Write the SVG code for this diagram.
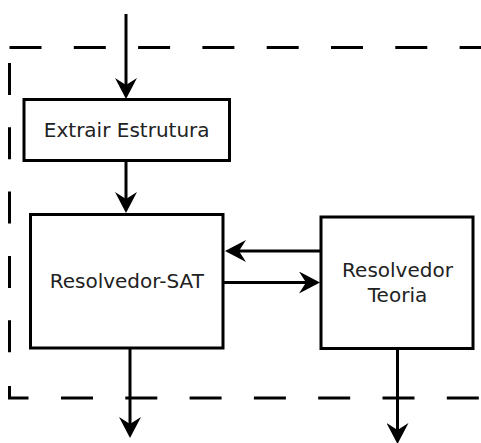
<svg xmlns="http://www.w3.org/2000/svg" width="481" height="443" viewBox="0 0 481 443">
<style>
.box{fill:#fff;stroke:#000;stroke-width:3}
.dash{fill:none;stroke:#000;stroke-width:3;stroke-dasharray:32 32.3}
.conn{fill:none;stroke:#000;stroke-width:3;marker-end:url(#ah)}
.lbl{font-family:"DejaVu Sans",sans-serif;font-size:20px;fill:#222;text-anchor:middle}
</style>
<defs>
<marker id="ah" viewBox="0 0 21 22" markerWidth="21" markerHeight="22" refX="10" refY="11" markerUnits="userSpaceOnUse" orient="auto">
<path d="M21,11 L0,0 L7,11 L0,22 Z" fill="#000"/>
</marker>
</defs>
<rect width="481" height="443" fill="#fff"/>
<g id="boundary">
<line class="dash" x1="9.5" y1="47.5" x2="481" y2="47.5"/>
<line class="dash" x1="9.5" y1="63" x2="9.5" y2="354"/>
<path d="M9.5,386 V398 H28.5" fill="none" stroke="#000" stroke-width="3"/>
<line class="dash" x1="61" y1="398" x2="481" y2="398"/>
</g>
<g id="extrair">
<rect class="box" x="24" y="99.5" width="205.5" height="61"/>
<text class="lbl" x="126.7" y="137">Extrair Estrutura</text>
</g>
<g id="sat">
<rect class="box" x="30.5" y="214.5" width="192.5" height="133.5"/>
<text class="lbl" x="126.8" y="287.5">Resolvedor-SAT</text>
</g>
<g id="teoria">
<rect class="box" x="321" y="217" width="152" height="131.5"/>
<text class="lbl" x="397.5" y="277">Resolvedor</text>
<text class="lbl" x="397.5" y="302">Teoria</text>
</g>
<g id="connectors">
<path class="conn" d="M126,14 V88"/>
<path class="conn" d="M126,161 V202"/>
<path class="conn" d="M320,251 H236"/>
<path class="conn" d="M224,282.5 H309"/>
<path class="conn" d="M130,349 V427"/>
<path class="conn" d="M397.5,350 V433"/>
</g>
</svg>
